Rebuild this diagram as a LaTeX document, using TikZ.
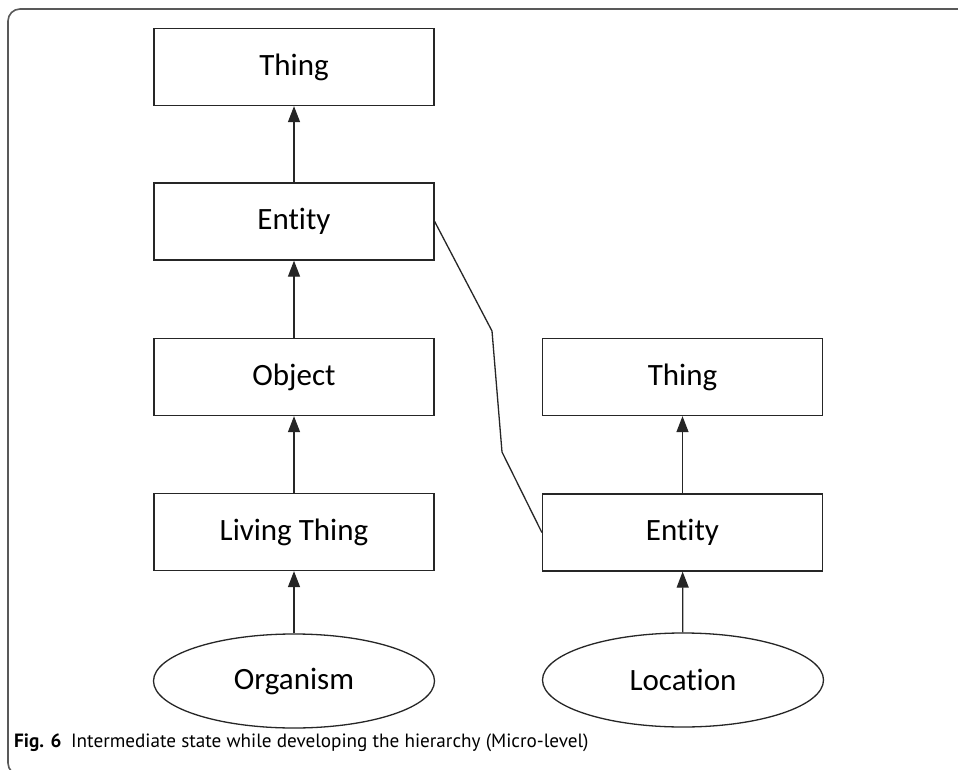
\documentclass[tikz,border=0pt]{standalone}
\usepackage{fontspec}
\setmainfont[Ligatures=NoCommon]{Carlito}
\newfontfamily\capfont{PT Sans}
\usetikzlibrary{arrows.meta,shapes.geometric}
\tikzset{
  box/.style={draw=black!85, line width=1.3pt, minimum width=280pt, minimum height=77pt, inner sep=0pt, font=\fontsize{31}{34}\selectfont},
  oval/.style={ellipse, draw=black!85, line width=1.3pt, minimum width=281pt, minimum height=94pt, inner sep=0pt, font=\fontsize{31}{34}\selectfont},
  isa/.style={draw=black!85, line width=1.3pt, -{Triangle[length=16pt,width=12pt]}},
  link/.style={draw=black!85, line width=1.3pt},
  frame/.style={draw=black!65, line width=1.6pt, rounded corners=12pt}
}
\begin{document}
\begin{tikzpicture}[x=1pt,y=-1pt]
\clip (0,0) rectangle (958,770);
\useasboundingbox (0,0) rectangle (958,770);
\fill[white] (0,0) rectangle (958,770);
\draw[frame] (8,9) rectangle (980,775);
% left column
\node[box] (thingL) at (294,67) {Thing};
\node[box] (entityL) at (294,221.5) {Entity};
\node[box] (object) at (294,377) {Object};
\node[box] (living) at (294,532) {Living Thing};
\node[oval] (organism) at (294,681) {Organism};
% right column
\node[box] (thingR) at (682.5,377) {Thing};
\node[box] (entityR) at (682.5,532.5) {Entity};
\node[oval] (location) at (683,680) {Location};
% arrows
\draw[isa] (entityL) -- (thingL);
\draw[isa] (object) -- (entityL);
\draw[isa] (living) -- (object);
\draw[isa] (organism) -- (living);
\draw[isa] (entityR) -- (thingR);
\draw[isa] (location) -- (entityR);
% connector between the two Entity nodes
\coordinate (b1) at (492,331);
\coordinate (b2) at (502,452);
\draw[link] (entityL.east) -- (b1) -- (b2) -- (entityR.west);
% caption
\node[anchor=base west, inner sep=0pt, font=\capfont\fontsize{19.2}{22}\selectfont] (caption) at (14,747) {\textbf{Fig. 6}\hspace{0.5em}Intermediate state while developing the hierarchy (Micro-level)};
\end{tikzpicture}
\end{document}
